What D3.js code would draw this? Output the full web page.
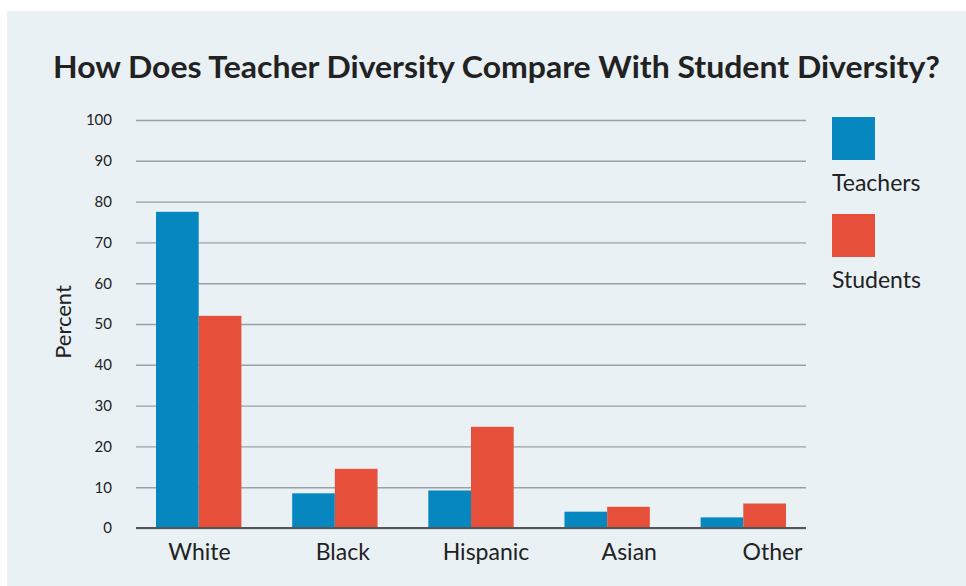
<!DOCTYPE html>
<html>
<head>
<meta charset="utf-8">
<script src="https://cdn.jsdelivr.net/npm/d3@7"></script>
<style>
  body { margin: 0; background: #ffffff; }
  svg text { font-family: Lato, "Open Sans", sans-serif; fill: #222; }
</style>
</head>
<body>
<div id="chart"></div>
<script>
// data
const categories = ["White", "Black", "Hispanic", "Asian", "Other"];
const seriesNames = ["Teachers", "Students"];
const teachers = [77.5, 8.5, 9.2, 4.0, 2.6];
const students = [52.0, 14.5, 24.8, 5.2, 6.0];
const yTicks = [0, 10, 20, 30, 40, 50, 60, 70, 80, 90, 100];
const colors = ["#0787bf", "#e64f39"];

const width = 966, height = 586;
const margin = {top: 120, left: 136, right: 160, bottom: 58};

let svg = d3.select("#chart").append("svg").attr("width", width).attr("height", height);

// panel background
svg.append("rect").attr("x", 7).attr("y", 11).attr("width", width - 7).attr("height", height - 11)
  .attr("fill", "#e9f1f5");

var x = d3.scaleBand().domain(categories).range([margin.left, width - margin.right])
  .paddingInner(0.373).paddingOuter(0.147);
var x1 = d3.scaleBand().domain(seriesNames).range([0, x.bandwidth()]);
var y = d3.scaleLinear().domain([0, 100]).range([height - margin.bottom, margin.top]);
// the category labels in the original drift right of their bars, so they get their own scale
var xLabel = d3.scalePoint().domain(categories).range([margin.left + 63, width - margin.right - 34]);

// gridlines + tick labels via axis
var yAxis = d3.axisLeft(y).tickValues(yTicks).tickSize(-(width - margin.right - margin.left)).tickPadding(24);
let gy = svg.append("g").attr("transform", "translate(" + margin.left + ",0)").call(yAxis);
gy.select(".domain").remove();
gy.selectAll(".tick line").attr("stroke", "#9aa0a4").attr("stroke-width", 1.4);
gy.selectAll(".tick text").attr("font-size", 15).attr("fill", "#333")
  .attr("font-family", "DejaVu Sans, sans-serif");

// bars
let rows = categories.map((c, i) => ({cat: c, values: [teachers[i], students[i]]}));
let groups = svg.selectAll(".grp").data(rows).enter().append("g")
  .attr("class", "grp").attr("transform", d => "translate(" + x(d.cat) + ",0)");
groups.selectAll("rect").data(d => d.values.map((v, j) => ({name: seriesNames[j], v: v, j: j})))
  .enter().append("rect")
  .attr("x", d => x1(d.name)).attr("width", x1.bandwidth())
  .attr("y", d => y(d.v)).attr("height", d => y(0) - y(d.v))
  .attr("fill", d => colors[d.j]);

// baseline + category labels
var xAxis = d3.axisBottom(xLabel).tickSize(0).tickPadding(16);
let gx = svg.append("g").attr("transform", "translate(0," + y(0) + ")").call(xAxis);
gx.select(".domain").attr("stroke", "#555").attr("stroke-width", 2)
  .attr("d", "M" + margin.left + ",0H" + (width - margin.right));
gx.selectAll(".tick text").attr("font-size", 23).attr("font-family", "Lato, sans-serif").attr("fill", "#333");

// y label
svg.append("text").attr("transform", "translate(71,322) rotate(-90)")
  .attr("text-anchor", "middle").attr("font-size", 22).attr("fill", "#222").text("Percent");

// title
svg.append("text").attr("x", 53).attr("y", 78).attr("font-size", 31).attr("font-weight", "bold")
  .attr("textLength", 887).attr("lengthAdjust", "spacingAndGlyphs")
  .attr("fill", "#1a1a1a").text("How Does Teacher Diversity Compare With Student Diversity?");

// legend
let legend = svg.selectAll(".leg").data(seriesNames).enter().append("g")
  .attr("class", "leg").attr("transform", (d, i) => "translate(832," + (117 + i * 97) + ")");
legend.append("rect").attr("width", 43).attr("height", 43).attr("fill", (d, i) => colors[i]);
legend.append("text").attr("x", 0).attr("y", 74).attr("font-size", 23).attr("fill", "#222").text(d => d);
</script>
</body>
</html>
